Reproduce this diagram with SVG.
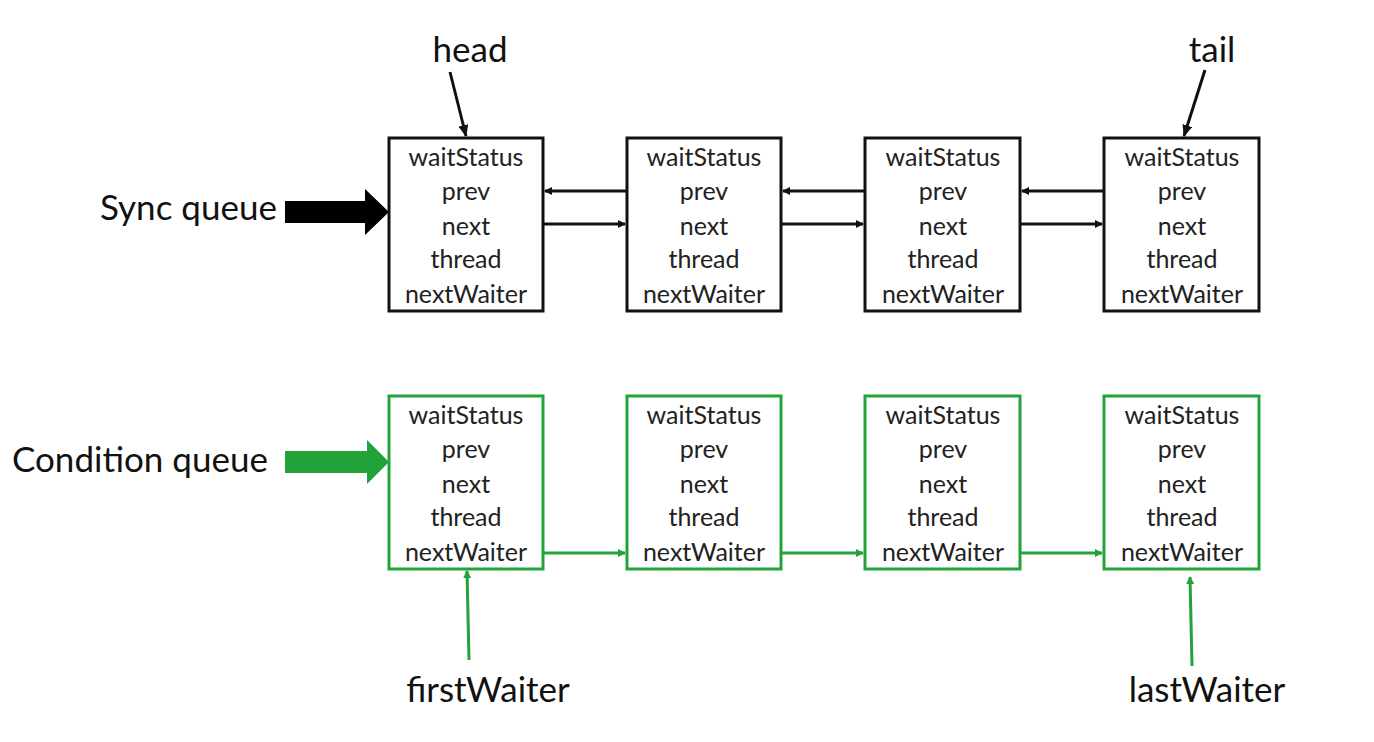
<svg xmlns="http://www.w3.org/2000/svg" width="1374" height="742" viewBox="0 0 1374 742">
<style>
.box{fill:#fff;stroke-width:3}
.blk{stroke:#111}
.grn{stroke:#22a33a}
.ft{font-family:Lato,"Open Sans",sans-serif;font-size:25px;fill:#222;text-anchor:middle}
.lbl{font-family:Lato,"Open Sans",sans-serif;font-size:35px;fill:#111}
.cb{stroke:#111;stroke-width:3;fill:none}
.cg{stroke:#22a33a;stroke-width:3;fill:none}
</style>
<defs>
<marker id="ab" markerWidth="8" markerHeight="8" refX="7" refY="4" orient="auto" markerUnits="userSpaceOnUse"><path d="M0,0 L8,4 L0,8 z" fill="#111"/></marker>
<marker id="ag" markerWidth="8" markerHeight="8" refX="7" refY="4" orient="auto" markerUnits="userSpaceOnUse"><path d="M0,0 L8,4 L0,8 z" fill="#22a33a"/></marker>
<marker id="abL" markerWidth="12" markerHeight="10" refX="11" refY="5" orient="auto" markerUnits="userSpaceOnUse"><path d="M0,0 L12,5 L0,10 z" fill="#111"/></marker>
<marker id="agL" markerWidth="12" markerHeight="10" refX="11" refY="5" orient="auto" markerUnits="userSpaceOnUse"><path d="M0,0 L12,5 L0,10 z" fill="#22a33a"/></marker>
</defs>
<rect width="1374" height="742" fill="#fff"/>

<g id="labels">
<text class="lbl" x="100" y="220">Sync queue</text>
<text class="lbl" x="12" y="472">Condition queue</text>
<text class="lbl" x="470" y="62" text-anchor="middle">head</text>
<text class="lbl" x="1212" y="62" text-anchor="middle">tail</text>
<text class="lbl" x="488" y="702" text-anchor="middle">firstWaiter</text>
<text class="lbl" x="1207" y="702" text-anchor="middle">lastWaiter</text>
</g>

<g id="big-arrows">
<polygon points="285,201 365,201 365,189 389,212 365,235 365,223 285,223" fill="#000"/>
<polygon points="285,451 367,451 367,440 389,462 367,484 367,473 285,473" fill="#22a33a"/>
</g>

<g id="sync1"><rect class="box blk" x="389" y="138" width="154" height="173"/>
<text class="ft" x="466" y="166">waitStatus</text><text class="ft" x="466" y="200">prev</text><text class="ft" x="466" y="235">next</text><text class="ft" x="466" y="268">thread</text><text class="ft" x="466" y="303">nextWaiter</text></g>
<g id="sync2"><rect class="box blk" x="627" y="138" width="154" height="173"/>
<text class="ft" x="704" y="166">waitStatus</text><text class="ft" x="704" y="200">prev</text><text class="ft" x="704" y="235">next</text><text class="ft" x="704" y="268">thread</text><text class="ft" x="704" y="303">nextWaiter</text></g>
<g id="sync3"><rect class="box blk" x="865" y="138" width="155" height="173"/>
<text class="ft" x="943" y="166">waitStatus</text><text class="ft" x="943" y="200">prev</text><text class="ft" x="943" y="235">next</text><text class="ft" x="943" y="268">thread</text><text class="ft" x="943" y="303">nextWaiter</text></g>
<g id="sync4"><rect class="box blk" x="1104" y="138" width="155" height="173"/>
<text class="ft" x="1182" y="166">waitStatus</text><text class="ft" x="1182" y="200">prev</text><text class="ft" x="1182" y="235">next</text><text class="ft" x="1182" y="268">thread</text><text class="ft" x="1182" y="303">nextWaiter</text></g>

<g id="cond1"><rect class="box grn" x="389" y="396" width="154" height="173"/>
<text class="ft" x="466" y="424">waitStatus</text><text class="ft" x="466" y="458">prev</text><text class="ft" x="466" y="493">next</text><text class="ft" x="466" y="526">thread</text><text class="ft" x="466" y="561">nextWaiter</text></g>
<g id="cond2"><rect class="box grn" x="627" y="396" width="154" height="173"/>
<text class="ft" x="704" y="424">waitStatus</text><text class="ft" x="704" y="458">prev</text><text class="ft" x="704" y="493">next</text><text class="ft" x="704" y="526">thread</text><text class="ft" x="704" y="561">nextWaiter</text></g>
<g id="cond3"><rect class="box grn" x="865" y="396" width="155" height="173"/>
<text class="ft" x="943" y="424">waitStatus</text><text class="ft" x="943" y="458">prev</text><text class="ft" x="943" y="493">next</text><text class="ft" x="943" y="526">thread</text><text class="ft" x="943" y="561">nextWaiter</text></g>
<g id="cond4"><rect class="box grn" x="1104" y="396" width="155" height="173"/>
<text class="ft" x="1182" y="424">waitStatus</text><text class="ft" x="1182" y="458">prev</text><text class="ft" x="1182" y="493">next</text><text class="ft" x="1182" y="526">thread</text><text class="ft" x="1182" y="561">nextWaiter</text></g>

<g id="connectors">
<line class="cb" x1="450" y1="72" x2="466" y2="136" marker-end="url(#abL)"/>
<line class="cb" x1="1205" y1="70" x2="1184" y2="136" marker-end="url(#abL)"/>
<line class="cb" x1="626" y1="191" x2="545" y2="191" marker-end="url(#ab)"/>
<line class="cb" x1="864" y1="191" x2="783" y2="191" marker-end="url(#ab)"/>
<line class="cb" x1="1103" y1="191" x2="1022" y2="191" marker-end="url(#ab)"/>
<line class="cb" x1="544" y1="224" x2="625" y2="224" marker-end="url(#ab)"/>
<line class="cb" x1="782" y1="224" x2="863" y2="224" marker-end="url(#ab)"/>
<line class="cb" x1="1021" y1="224" x2="1102" y2="224" marker-end="url(#ab)"/>
<line class="cg" x1="544" y1="553" x2="625" y2="553" marker-end="url(#ag)"/>
<line class="cg" x1="782" y1="553" x2="863" y2="553" marker-end="url(#ag)"/>
<line class="cg" x1="1021" y1="553" x2="1102" y2="553" marker-end="url(#ag)"/>
<line class="cg" x1="469" y1="660" x2="467" y2="571" marker-end="url(#ag)"/>
<line class="cg" x1="1192" y1="666" x2="1190" y2="577" marker-end="url(#ag)"/>
</g>
</svg>
